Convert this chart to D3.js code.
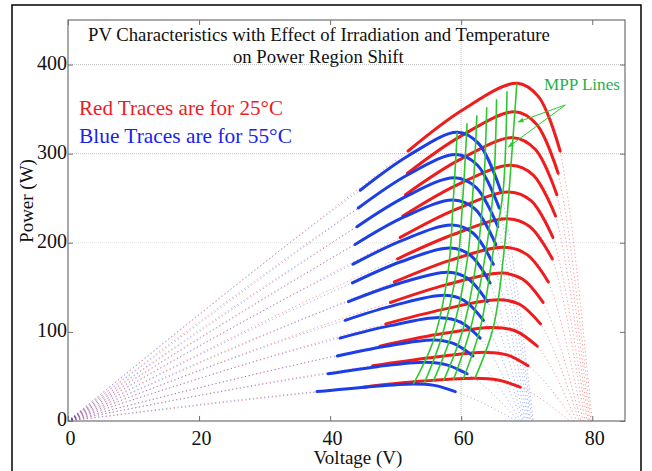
<!DOCTYPE html>
<html><head><meta charset="utf-8">
<script src="https://cdn.jsdelivr.net/npm/d3@7"></script>
<style>
body{margin:0;background:#fff}
svg{display:block}
text{font-family:"Liberation Serif","Times New Roman",serif}
</style>
</head><body>
<svg id="c" width="652" height="471"></svg>
<script>
// ---- data ----
const xTicks = [0, 20, 40, 60, 80];
const yTicks = [0, 100, 200, 300, 400];
const gridX = [60];
const gridY = [200, 300, 400];

// 25 °C traces: solid part points [Voltage, Power], top irradiance first
const redTraces = [
  [[51.9,303],[60.2,349],[68.5,379],[71.8,364],[75.1,303]],
  [[51.8,278],[60.0,320],[68.2,347],[71.5,333],[74.8,278]],
  [[51.5,254],[59.7,293],[67.9,318],[71.3,305],[74.6,254]],
  [[51.1,230],[59.4,265],[67.6,287],[71.0,276],[74.4,230]],
  [[50.7,206],[59.0,237],[67.3,257],[70.7,247],[74.0,206]],
  [[50.3,182],[58.7,209],[67.0,227],[70.5,218],[73.9,182]],
  [[49.8,156],[58.2,180],[66.6,195],[70.0,187],[73.3,156]],
  [[49.2,133],[57.8,153],[66.3,166],[69.4,159],[72.5,133]],
  [[48.5,109],[57.1,125],[65.7,136],[68.9,131],[72.1,109]],
  [[47.6,84],[56.3,97],[64.9,105],[68.3,101],[71.6,84]],
  [[46.5,62],[55.3,71],[64.0,77],[67.1,74],[70.2,62]],
  [[45.0,38],[53.6,44.5],[62.1,48],[65.6,46],[69.0,38]]
];
const redVoc = [80.0,79.8,79.6,79.4,79.2,78.9,78.6,78.3,78.0,77.6,77.2,76.6];

// 55 °C traces
const blueTraces = [
  [[44.6,259],[52.0,298],[59.4,324],[62.7,311],[66.0,259]],
  [[44.3,239],[51.8,276],[59.2,299],[62.5,287],[65.8,239]],
  [[44.1,218],[51.6,252],[59.0,273],[62.3,262],[65.6,218]],
  [[43.8,198],[51.3,229],[58.8,248],[62.1,238],[65.3,198]],
  [[43.5,176],[51.1,203],[58.6,220],[61.8,211],[64.9,176]],
  [[43.4,155],[50.9,179],[58.3,194],[61.4,186],[64.4,155]],
  [[42.8,134],[50.4,154],[58.0,167],[61.0,160],[64.0,134]],
  [[42.3,113],[49.9,130],[57.5,141],[60.5,135],[63.4,113]],
  [[41.5,93],[49.2,107],[56.8,116],[59.9,111],[62.9,93]],
  [[41.1,73],[48.5,84],[55.8,91],[58.8,87],[61.8,73]],
  [[39.7,53],[47.2,61],[54.6,66],[57.8,63],[60.9,53]],
  [[38.0,33],[45.4,38],[52.7,41.5],[55.9,40],[59.1,33]]
];
const blueVoc = [71.0,70.8,70.6,70.4,70.2,70.0,69.8,69.6,69.4,69.1,68.8,68.5];

// MPP loci (green), 55 °C ... 25 °C
const mppLines = [
  [[52.7,41.5],[55.8,91],[58.0,167],[58.8,248],[59.4,324]],
  [[54.4,43],[57.1,96],[59.4,174],[60.3,256],[60.9,334]],
  [[55.7,44],[58.6,99],[60.9,179],[61.8,258],[62.4,343]],
  [[57.3,45],[60.2,101],[62.4,183],[63.4,259],[63.9,352]],
  [[58.8,46],[61.4,103],[63.7,187],[64.9,259],[65.4,361]],
  [[60.3,47],[62.9,104],[64.9,191],[66.4,258],[67.0,370]],
  [[62.1,48],[64.9,105],[66.6,195],[67.3,257],[68.5,379]]
];
const arrowStart = [75.9, 354.7];
const arrowEnds = [[68.7, 335.6], [67.2, 307.5]];

const titleLines = ["PV Characteristics with Effect of Irradiation and Temperature", "on Power Region Shift"];
const legendLines = ["Red Traces are for 25\u00B0C", "Blue Traces are for 55\u00B0C"];
const mppLabel = "MPP Lines";
const xLabel = "Voltage (V)";
const yLabel = "Power (W)";

// ---- drawing ----
const svg = d3.select("#c");
const RED = "#ee1c1c", BLUE = "#1c3ee6", GREEN = "#2ec82e";
const x = d3.scaleLinear().domain([0, 85]).range([68, 625]);
const y = d3.scaleLinear().domain([0, 450]).range([421, 20]);

// outer frame
svg.append("rect").attr("x", 12).attr("y", 5).attr("width", 629).attr("height", 520)
  .attr("fill", "none").attr("stroke", "#000").attr("stroke-width", 1.5);

// grid
svg.append("g").selectAll("line").data(gridY).join("line")
  .attr("x1", x(0)).attr("x2", x(85)).attr("y1", d => y(d)).attr("y2", d => y(d))
  .attr("stroke", d => d === 200 ? "#e2e2e2" : "#c4c4c4").attr("stroke-width", 1).attr("stroke-dasharray", "1,1");
svg.append("g").selectAll("line").data(gridX).join("line")
  .attr("y1", y(0)).attr("y2", y(450)).attr("x1", d => x(d)).attr("x2", d => x(d))
  .attr("stroke", "#c4c4c4").attr("stroke-width", 1).attr("stroke-dasharray", "1,1");

const dotLine = d3.line().x(d => x(d[0])).y(d => y(d[1])).curve(d3.curveMonotoneX);
const solidLine = d3.line().x(d => x(d[0])).y(d => y(d[1])).curve(d3.curveCatmullRom.alpha(0.5));

function drawDotted(traces, vocs, color, op) {
  svg.append("g").selectAll("path").data(traces).join("path")
    .attr("d", (d, i) => dotLine([[0, 0], ...d, [vocs[i], 0]]))
    .attr("fill", "none").attr("stroke", color).attr("stroke-width", 1)
    .attr("stroke-dasharray", "1.2,2.6").attr("opacity", op);
}
function drawSolid(traces, color) {
  svg.append("g").selectAll("path").data(traces).join("path")
    .attr("d", d => solidLine(d)).attr("fill", "none").attr("stroke", color)
    .attr("stroke-width", 3).attr("stroke-linecap", "round");
}
drawDotted(redTraces, redVoc, RED, 0.45);
drawDotted(blueTraces, blueVoc, BLUE, 0.4);
drawSolid(redTraces, RED);
drawSolid(blueTraces, BLUE);

// MPP lines
const mline = d3.line().x(d => x(d[0])).y(d => y(d[1])).curve(d3.curveCatmullRom);
svg.append("g").selectAll("path").data(mppLines).join("path")
  .attr("d", d => mline(d)).attr("fill", "none").attr("stroke", GREEN).attr("stroke-width", 1.6);

// arrows
svg.append("defs").append("marker").attr("id", "ah").attr("viewBox", "0 0 10 10")
  .attr("refX", 9).attr("refY", 5).attr("markerWidth", 6).attr("markerHeight", 6)
  .attr("orient", "auto").append("path").attr("d", "M0,1L10,5L0,9Z").attr("fill", GREEN);
svg.append("g").selectAll("line").data(arrowEnds).join("line")
  .attr("x1", x(arrowStart[0])).attr("y1", y(arrowStart[1]))
  .attr("x2", d => x(d[0])).attr("y2", d => y(d[1]))
  .attr("stroke", GREEN).attr("stroke-width", 1).attr("marker-end", "url(#ah)");

// plot frame
svg.append("rect").attr("x", x(0)).attr("y", y(450)).attr("width", x(85) - x(0)).attr("height", y(0) - y(450))
  .attr("fill", "none").attr("stroke", "#707070").attr("stroke-width", 1.2);

// axes (ticks inward, mirrored)
const tickCol = "#707070";
svg.append("g").attr("transform", `translate(0,${y(0)})`)
  .call(d3.axisBottom(x).tickValues(xTicks).tickSizeInner(-5).tickSizeOuter(0).tickFormat(""))
  .call(g => { g.select(".domain").remove(); g.selectAll("line").attr("stroke", tickCol); });
svg.append("g").attr("transform", `translate(0,${y(450)})`)
  .call(d3.axisTop(x).tickValues(xTicks).tickSizeInner(-5).tickSizeOuter(0).tickFormat(""))
  .call(g => { g.select(".domain").remove(); g.selectAll("line").attr("stroke", tickCol); });
svg.append("g").attr("transform", `translate(${x(0)},0)`)
  .call(d3.axisLeft(y).tickValues(yTicks).tickSizeInner(-5).tickSizeOuter(0).tickFormat(""))
  .call(g => { g.select(".domain").remove(); g.selectAll("line").attr("stroke", tickCol); });
svg.append("g").attr("transform", `translate(${x(85)},0)`)
  .call(d3.axisRight(y).tickValues(yTicks).tickSizeInner(-5).tickSizeOuter(0).tickFormat(""))
  .call(g => { g.select(".domain").remove(); g.selectAll("line").attr("stroke", tickCol); });

// tick labels
svg.append("g").selectAll("text").data(xTicks).join("text")
  .attr("x", d => x(d) + 2.5).attr("y", 445).attr("text-anchor", "middle")
  .attr("font-size", 20).attr("fill", "#111").text(d => d);
svg.append("g").selectAll("text").data(yTicks).join("text")
  .attr("x", 67).attr("y", d => y(d) + 5).attr("text-anchor", "end")
  .attr("font-size", 20).attr("fill", "#111").text(d => d);

// axis titles
svg.append("text").attr("x", 358).attr("y", 464).attr("text-anchor", "middle")
  .attr("font-size", 19).attr("fill", "#111").text(xLabel);
svg.append("text").attr("transform", "translate(33,201) rotate(-90)").attr("text-anchor", "middle")
  .attr("font-size", 19).attr("fill", "#111").text(yLabel);

function fitText(sel, target) {
  const w = sel.node().getComputedTextLength();
  const fs = parseFloat(sel.attr("font-size"));
  sel.attr("font-size", (fs * target / w).toFixed(2));
}
// title
fitText(svg.append("text").attr("x", 88).attr("y", 41).attr("font-size", 17).attr("fill", "#111").text(titleLines[0]), 462);
fitText(svg.append("text").attr("x", 233).attr("y", 63).attr("font-size", 17).attr("fill", "#111").text(titleLines[1]), 171);
// legend texts
fitText(svg.append("text").attr("x", 79).attr("y", 115).attr("font-size", 21).attr("fill", "#ec1c24").text(legendLines[0]), 204);
fitText(svg.append("text").attr("x", 79).attr("y", 143).attr("font-size", 21).attr("fill", "#1a22ee").text(legendLines[1]), 213);
fitText(svg.append("text").attr("x", 544).attr("y", 90).attr("font-size", 15).attr("fill", "#1fb04c").text(mppLabel), 76);
</script>
</body></html>
